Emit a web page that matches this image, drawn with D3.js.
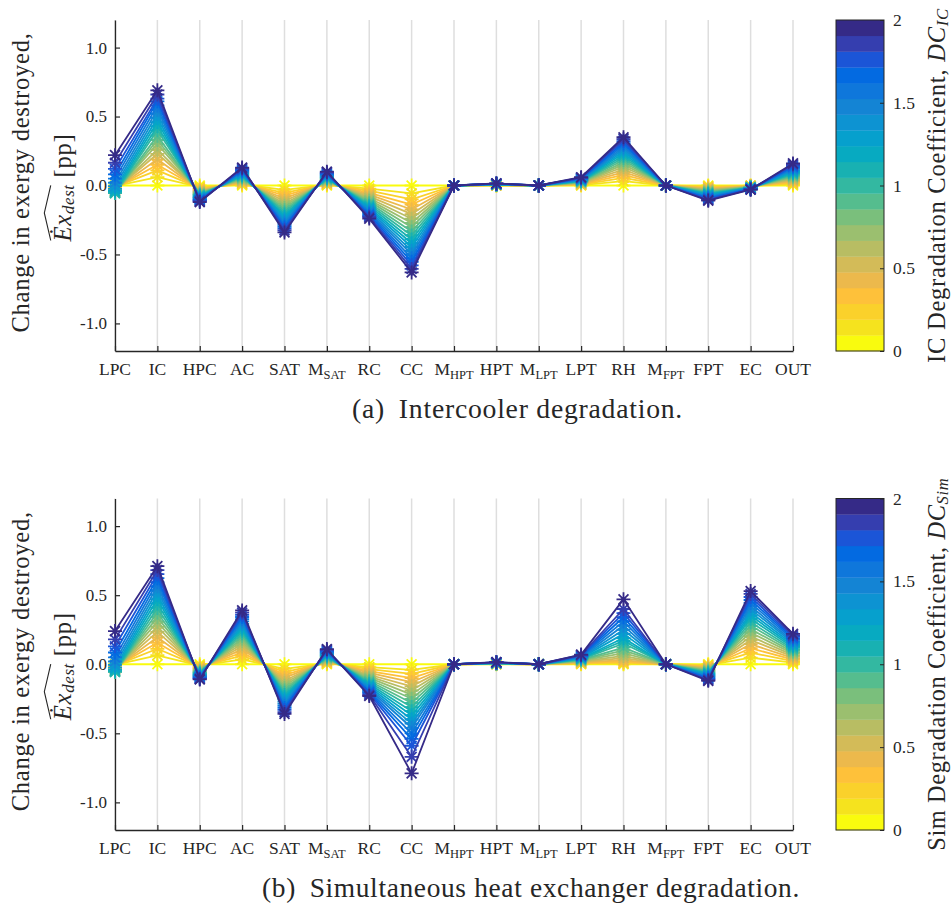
<!DOCTYPE html>
<html><head><meta charset="utf-8">
<script src="https://cdn.jsdelivr.net/npm/d3@7"></script>
<style>
body{margin:0;background:#fff;}
svg{display:block;}
text{font-family:"Liberation Serif","Times New Roman",serif;fill:#262626;white-space:pre;}
</style>
</head><body>
<svg id="chart" width="952" height="905"></svg>
<script>
// ---------------- DATA ----------------
const categories = ["LPC","IC","HPC","AC","SAT","M_SAT","RC","CC","M_HPT","HPT","M_LPT","LPT","RH","M_FPT","FPT","EC","OUT"];
const dcValues = [0,0.1,0.2,0.3,0.4,0.5,0.6,0.7,0.8,0.9,1.0,1.1,1.2,1.3,1.4,1.5,1.6,1.7,1.8,1.9,2.0];
const yTicks = [1.0,0.5,0.0,-0.5,-1.0];
const yTickLabels = ["1.0","0.5","0.0","-0.5","-1.0"];
const cbTicks = [0,0.5,1,1.5,2];
const cbTickLabels = ["0","0.5","1","1.5","2"];

// (a) Intercooler degradation: one row per category, one value per DC (0 .. 2)
const icDegradation = [
 /*LPC */ [0,-.005,-.01,-.02,-.03,-.035,-.04,-.045,-.05,-.055,-.055,-.05,-.04,-.025,-.005,.02,.05,.08,.12,.165,.22],
 /*IC  */ [0,.06,.11,.15,.19,.23,.26,.30,.33,.36,.40,.43,.46,.49,.52,.55,.58,.61,.63,.66,.69],
 /*HPC */ [0,-.011,-.019,-.026,-.033,-.040,-.046,-.052,-.058,-.063,-.069,-.074,-.080,-.085,-.090,-.095,-.100,-.105,-.110,-.115,-.12],
 /*AC  */ [0,.007,.013,.020,.026,.033,.039,.046,.052,.059,.065,.072,.078,.085,.091,.098,.104,.111,.117,.124,.13],
 /*SAT */ [0,-.031,-.054,-.074,-.094,-.112,-.130,-.147,-.163,-.180,-.195,-.211,-.226,-.241,-.256,-.270,-.285,-.299,-.312,-.326,-.34],
 /*MSAT*/ [0,.005,.01,.015,.02,.025,.03,.035,.04,.045,.05,.055,.06,.065,.07,.075,.08,.085,.09,.095,.10],
 /*RC  */ [0,-.022,-.038,-.053,-.066,-.079,-.092,-.104,-.115,-.127,-.138,-.149,-.160,-.170,-.180,-.191,-.201,-.211,-.221,-.230,-.24],
 /*CC  */ [0,-.057,-.100,-.138,-.174,-.208,-.241,-.272,-.302,-.333,-.362,-.391,-.419,-.446,-.474,-.500,-.527,-.553,-.579,-.605,-.63],
 /*MHPT*/ [0,0,0,0,0,0,0,0,0,0,0,0,0,0,0,0,0,0,0,0,0],
 /*HPT */ [0,.001,.002,.002,.003,.004,.005,.005,.006,.007,.008,.008,.009,.010,.011,.011,.012,.013,.014,.014,.015],
 /*MLPT*/ [0,0,0,0,0,0,0,0,0,0,0,0,0,0,0,0,0,0,0,0,0],
 /*LPT */ [0,.003,.006,.009,.012,.015,.018,.021,.024,.027,.030,.033,.036,.039,.042,.045,.048,.051,.054,.057,.060],
 /*RH  */ [0,.032,.055,.077,.097,.116,.134,.151,.168,.185,.201,.217,.233,.248,.263,.278,.293,.307,.322,.336,.35],
 /*MFPT*/ [0,0,0,0,0,0,0,0,0,0,0,0,0,0,0,0,0,0,0,0,0],
 /*FPT */ [0,-.006,-.011,-.017,-.022,-.028,-.033,-.039,-.044,-.050,-.055,-.061,-.066,-.072,-.077,-.083,-.088,-.094,-.099,-.105,-.11],
 /*EC  */ [0,-.002,-.003,-.005,-.006,-.008,-.009,-.011,-.012,-.014,-.015,-.017,-.018,-.020,-.021,-.023,-.024,-.026,-.027,-.029,-.03],
 /*OUT */ [0,.008,.016,.024,.032,.040,.048,.056,.064,.072,.080,.088,.096,.104,.112,.120,.128,.136,.144,.152,.16]
];

// (b) Simultaneous heat exchanger degradation
const simDegradation = [
 /*LPC */ [0,-.005,-.01,-.02,-.03,-.035,-.04,-.045,-.05,-.055,-.055,-.05,-.04,-.025,-.005,.02,.05,.085,.13,.18,.24],
 /*IC  */ [0,.065,.112,.155,.196,.234,.271,.307,.341,.375,.408,.440,.472,.503,.534,.564,.594,.623,.652,.682,.71],
 /*HPC */ [0,-.010,-.017,-.024,-.030,-.036,-.042,-.048,-.053,-.058,-.063,-.068,-.073,-.078,-.083,-.087,-.092,-.097,-.101,-.106,-.11],
 /*AC  */ [0,.035,.062,.085,.108,.129,.149,.168,.187,.206,.224,.242,.259,.276,.293,.310,.326,.342,.358,.374,.39],
 /*SAT */ [0,-.033,-.057,-.079,-.099,-.119,-.138,-.156,-.173,-.190,-.207,-.223,-.239,-.255,-.271,-.286,-.301,-.316,-.331,-.346,-.36],
 /*MSAT*/ [0,.006,.011,.017,.022,.028,.033,.039,.044,.050,.055,.061,.066,.072,.077,.083,.088,.094,.099,.105,.11],
 /*RC  */ [0,-.021,-.036,-.050,-.063,-.076,-.088,-.099,-.110,-.121,-.132,-.143,-.153,-.163,-.173,-.183,-.193,-.202,-.211,-.221,-.23],
 /*CC  */ [0,-.04,-.07,-.10,-.13,-.16,-.19,-.22,-.25,-.28,-.31,-.34,-.37,-.40,-.43,-.46,-.50,-.54,-.59,-.67,-.79],
 /*MHPT*/ [0,0,0,0,0,0,0,0,0,0,0,0,0,0,0,0,0,0,0,0,0],
 /*HPT */ [0,.001,.002,.002,.003,.004,.005,.005,.006,.007,.008,.008,.009,.010,.011,.011,.012,.013,.014,.014,.015],
 /*MLPT*/ [0,0,0,0,0,0,0,0,0,0,0,0,0,0,0,0,0,0,0,0,0],
 /*LPT */ [0,.004,.007,.011,.014,.018,.021,.025,.028,.032,.035,.039,.042,.046,.049,.053,.056,.060,.063,.067,.07],
 /*RH  */ [0,.005,.012,.02,.03,.045,.06,.08,.10,.12,.15,.17,.19,.22,.25,.28,.31,.34,.37,.40,.47],
 /*MFPT*/ [0,0,0,0,0,0,0,0,0,0,0,0,0,0,0,0,0,0,0,0,0],
 /*FPT */ [0,-.006,-.012,-.018,-.024,-.030,-.036,-.042,-.048,-.054,-.060,-.066,-.072,-.078,-.084,-.090,-.096,-.102,-.108,-.114,-.12],
 /*EC  */ [0,.048,.084,.116,.146,.175,.202,.229,.254,.280,.304,.329,.352,.375,.399,.421,.444,.465,.487,.509,.53],
 /*OUT */ [0,.011,.022,.033,.044,.055,.066,.077,.088,.099,.110,.121,.132,.143,.154,.165,.176,.187,.198,.209,.22]
];

// ---------------- COLORMAP (parula, 64 entries) ----------------
const parulaTable = [
[0.2081,0.1663,0.5292],[0.2116,0.1898,0.5777],[0.2123,0.2138,0.6270],[0.2081,0.2386,0.6771],
[0.1959,0.2645,0.7279],[0.1707,0.2919,0.7792],[0.1253,0.3242,0.8303],[0.0591,0.3598,0.8683],
[0.0117,0.3875,0.8820],[0.0060,0.4086,0.8828],[0.0165,0.4266,0.8786],[0.0329,0.4430,0.8720],
[0.0498,0.4586,0.8641],[0.0629,0.4737,0.8554],[0.0723,0.4887,0.8467],[0.0779,0.5040,0.8384],
[0.0793,0.5200,0.8312],[0.0749,0.5375,0.8263],[0.0641,0.5570,0.8240],[0.0488,0.5772,0.8228],
[0.0343,0.5966,0.8199],[0.0265,0.6137,0.8135],[0.0239,0.6287,0.8038],[0.0231,0.6418,0.7913],
[0.0228,0.6535,0.7768],[0.0267,0.6642,0.7607],[0.0384,0.6743,0.7436],[0.0590,0.6838,0.7254],
[0.0843,0.6928,0.7062],[0.1133,0.7015,0.6859],[0.1453,0.7098,0.6646],[0.1801,0.7177,0.6424],
[0.2178,0.7250,0.6193],[0.2586,0.7317,0.5954],[0.3022,0.7376,0.5712],[0.3482,0.7424,0.5473],
[0.3953,0.7459,0.5244],[0.4420,0.7481,0.5033],[0.4871,0.7491,0.4840],[0.5300,0.7491,0.4661],
[0.5709,0.7485,0.4494],[0.6099,0.7473,0.4337],[0.6473,0.7456,0.4188],[0.6834,0.7435,0.4044],
[0.7184,0.7411,0.3905],[0.7525,0.7384,0.3768],[0.7858,0.7356,0.3633],[0.8185,0.7327,0.3498],
[0.8507,0.7299,0.3360],[0.8824,0.7274,0.3217],[0.9139,0.7258,0.3063],[0.9450,0.7261,0.2886],
[0.9739,0.7314,0.2666],[0.9938,0.7455,0.2403],[0.9990,0.7653,0.2164],[0.9955,0.7861,0.1967],
[0.9880,0.8066,0.1794],[0.9789,0.8271,0.1633],[0.9697,0.8481,0.1475],[0.9626,0.8705,0.1309],
[0.9589,0.8949,0.1132],[0.9598,0.9218,0.0948],[0.9661,0.9514,0.0755],[0.9763,0.9831,0.0538]];
function parula(t){
  t = Math.max(0, Math.min(1, t));
  const p = t*(parulaTable.length-1), i = Math.min(parulaTable.length-2, Math.floor(p)), f = p-i;
  const a = parulaTable[i], b = parulaTable[i+1];
  return d3.rgb((a[0]+(b[0]-a[0])*f)*255,(a[1]+(b[1]-a[1])*f)*255,(a[2]+(b[2]-a[2])*f)*255).formatHex();
}
const dcMax = d3.max(dcValues);
const colorOf = dc => parula(1 - dc/dcMax);

// ---------------- LAYOUT ----------------
const svg = d3.select("#chart");
const INK = "#262626";
const X0 = 115, X1 = 793, CB0 = 836, CB1 = 884;
const panels = [
  {values: icDegradation, top: 20, bottom: 351, cbPre: "IC Degradation Coefficient, ", cbSub: "IC", cbLen: 355,
   capTag: "(a)", capText: "Intercooler degradation.", capX: 352, capLen: 331, capY: 418},
  {values: simDegradation, top: 498.5, bottom: 830, cbPre: "Sim Degradation Coefficient, ", cbSub: "Sim", cbLen: 373,
   capTag: "(b)", capText: "Simultaneous heat exchanger degradation.", capX: 262, capLen: 538, capY: 897}
];

// Fit a text element to a target length: half by font size, the rest by letter spacing.
function fit(sel, target){
  const n = sel.node();
  let fs = +sel.attr("font-size");
  let w = n.getBBox().width;
  fs = fs * Math.sqrt(target / w);
  sel.attr("font-size", fs.toFixed(2));
  let ls = 0;
  for (let it = 0; it < 3; it++){
    w = n.getBBox().width;
    ls += (target - w) / n.getNumberOfChars();
    sel.attr("letter-spacing", ls.toFixed(3));
  }
  return fs;
}
const starR = 7, sd = starR*Math.SQRT1_2;
const starPath = `M${-starR},0H${starR}M0,${-starR}V${starR}M${-sd},${-sd}L${sd},${sd}M${-sd},${sd}L${sd},${-sd}`;

const x = d3.scalePoint().domain(categories).range([X0, X1]).padding(0);

panels.forEach(P => {
  const y = d3.scaleLinear().domain([-1.2, 1.2]).range([P.bottom, P.top]);
  const g = svg.append("g");

  // gridlines
  g.append("g").selectAll("line").data(categories).join("line")
    .attr("x1", d => x(d)).attr("x2", d => x(d))
    .attr("y1", P.top).attr("y2", P.bottom)
    .attr("stroke", "#dedede").attr("stroke-width", 1.5);

  // y axis
  const ya = g.append("g").attr("transform", `translate(${X0},0)`)
    .call(d3.axisLeft(y).tickValues(yTicks).tickSize(-5).tickSizeOuter(0).tickPadding(8)
      .tickFormat((d,i) => yTickLabels[i]));
  ya.select(".domain").attr("stroke", INK).attr("stroke-width", 1.3);
  ya.selectAll(".tick line").attr("stroke", INK).attr("stroke-width", 1.2);
  ya.selectAll(".tick text").attr("font-family", '"Liberation Serif",serif').attr("font-size", 17).attr("fill", INK);

  // x axis
  const xa = g.append("g").attr("transform", `translate(0,${P.bottom})`)
    .call(d3.axisBottom(x).tickSize(-5).tickSizeOuter(0).tickFormat(""));
  xa.select(".domain").attr("stroke", INK).attr("stroke-width", 1.3);
  xa.selectAll(".tick line").attr("stroke", INK).attr("stroke-width", 1.2);
  xa.selectAll(".tick text").remove();
  categories.forEach(c => {
    const parts = c.split("_");
    const t = g.append("text").attr("x", x(c)).attr("y", P.bottom + 24)
      .attr("text-anchor", "middle").attr("font-size", 17.5);
    t.append("tspan").text(parts[0]);
    if (parts[1]) t.append("tspan").attr("font-size", 12.5).attr("dy", 4).text(parts[1]);
  });

  // series
  const line = d3.line().x((d, j) => x(categories[j])).y(d => y(d));
  dcValues.forEach((dc, s) => {
    const series = P.values.map(col => col[s]);
    const col = colorOf(dc);
    const sg = g.append("g");
    sg.append("path").datum(series).attr("d", line).attr("fill", "none")
      .attr("stroke", col).attr("stroke-width", 1.8).attr("stroke-linejoin", "round");
    sg.selectAll("path.m").data(series).join("path").attr("class", "m")
      .attr("transform", (d, j) => `translate(${x(categories[j])},${y(d)})`)
      .attr("d", starPath).attr("fill", "none").attr("stroke", col).attr("stroke-width", 1.8);
  });

  // y-axis label
  const cy = (P.top + P.bottom) / 2;
  const l1 = g.append("text").attr("transform", `translate(29,${cy - 3}) rotate(-90)`)
    .attr("text-anchor", "middle").attr("font-size", 23).text("Change in exergy destroyed,");
  fit(l1, 300);
  const l2g = g.append("g").attr("transform", `translate(71,${cy + 2}) rotate(-90)`);
  const l2 = l2g.append("text").attr("text-anchor", "middle").attr("font-size", 23);
  l2.append("tspan").attr("font-style", "italic").text("\u0116x");
  l2.append("tspan").attr("font-style", "italic").attr("font-size", "0.68em").attr("dy", "0.18em").text("dest");
  l2.append("tspan").attr("dy", "-0.12em").text(" [pp]");
  const fs2 = fit(l2, 109);
  const e0 = l2.node().getExtentOfChar(0), e5 = l2.node().getExtentOfChar(5);
  const hx0 = e0.x + 1, hx1 = e5.x + e5.width - 1;
  l2g.append("path")
    .attr("d", `M${hx0},${-0.82*fs2} L${(hx0 + hx1) / 2},${-1.08*fs2} L${hx1},${-0.82*fs2}`)
    .attr("fill", "none").attr("stroke", INK).attr("stroke-width", 1.1);

  // colorbar
  const cbY = d3.scaleLinear().domain([0, dcMax]).range([P.bottom, P.top]);
  const nB = dcValues.length, step = dcMax / nB;
  g.append("g").selectAll("rect").data(dcValues).join("rect")
    .attr("x", CB0).attr("width", CB1 - CB0)
    .attr("y", (d, i) => cbY((i + 1) * step)).attr("height", (d, i) => cbY(i * step) - cbY((i + 1) * step) + 0.3)
    .attr("fill", d => colorOf(d));
  g.append("rect").attr("x", CB0).attr("y", P.top).attr("width", CB1 - CB0).attr("height", P.bottom - P.top)
    .attr("fill", "none").attr("stroke", INK).attr("stroke-width", 1);
  const ca = g.append("g").attr("transform", `translate(${CB1},0)`)
    .call(d3.axisRight(cbY).tickValues(cbTicks).tickSize(-4).tickSizeOuter(0).tickPadding(9)
      .tickFormat((d, i) => cbTickLabels[i]));
  ca.select(".domain").remove();
  ca.selectAll(".tick line").attr("stroke", INK);
  ca.selectAll(".tick text").attr("font-family", '"Liberation Serif",serif').attr("font-size", 17.5).attr("fill", INK);

  const cl = g.append("text").attr("transform", `translate(945,${cy}) rotate(-90)`)
    .attr("text-anchor", "middle").attr("font-size", 23);
  cl.append("tspan").text(P.cbPre);
  cl.append("tspan").attr("font-style", "italic").text("DC");
  cl.append("tspan").attr("font-style", "italic").attr("font-size", "0.68em").attr("dy", "0.18em").text(P.cbSub);
  fit(cl, P.cbLen);

  // caption
  const cap = g.append("text").attr("x", P.capX).attr("y", P.capY).attr("font-size", 26);
  cap.append("tspan").text(P.capTag);
  cap.append("tspan").attr("dx", "0.5em").text(P.capText);
  fit(cap, P.capLen);
});
</script>
</body></html>
